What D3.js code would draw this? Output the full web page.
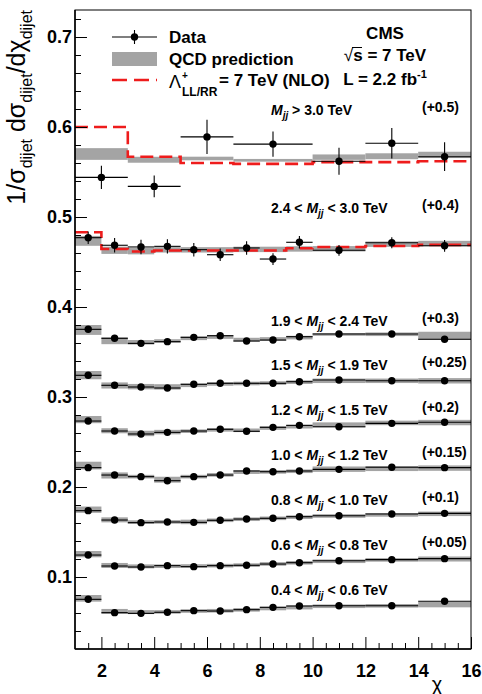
<!DOCTYPE html>
<html>
<head>
<meta charset="utf-8">
<title>dijet chi</title>
<style>
body{margin:0;background:#fff}
text{font-family:"Liberation Sans",Arial,sans-serif}
</style>
</head>
<body>
<script src="https://d3js.org/d3.v7.min.js"></script>
<script>
// chi bin edges and centres
var edgesLow = [1,2,3,4,5,6,7,8,9,10,12,14,16];
var edgesHigh = [1,3,5,7,10,12,14,16];
var chiLow = [1.5,2.5,3.5,4.5,5.5,6.5,7.5,8.5,9.5,11,13,15];
var chiHigh = [2,4,6,8.5,11,13,15];

// Mjj > 3.0 TeV (+0.5)
var data30 = [0.544,0.534,0.589,0.581,0.562,0.582,0.567];
var err30 = [0.013,0.012,0.019,0.014,0.015,0.017,0.016];
var qcd30 = [0.570,0.5636,0.565,0.563,0.5665,0.5675,0.569];
var qerr30 = [0.0065,0.0033,0.002,0.0015,0.003,0.0033,0.0035];
var lam30 = [0.600,0.567,0.560,0.559,0.561,0.561,0.562];

// 2.4 < Mjj < 3.0 TeV (+0.4)
var data24 = [0.477,0.4686,0.4667,0.4674,0.4637,0.4581,0.4656,0.4533,0.4719,0.463,0.4714,0.468];
var err24 = [0.007,0.008,0.008,0.008,0.0075,0.007,0.0075,0.0065,0.007,0.006,0.006,0.0065];
var qcd24 = [0.4735,0.463,0.462,0.4635,0.4635,0.4635,0.464,0.464,0.4645,0.4647,0.4698,0.4705];
var qerr24 = [0.0055,0.004,0.0035,0.003,0.003,0.003,0.003,0.003,0.003,0.003,0.003,0.003];
var lam24 = [0.483,0.4644,0.4617,0.4628,0.4628,0.4628,0.4628,0.4628,0.4652,0.4667,0.4678,0.469];

// lower mass bins (values include the offsets)
var data19 = [0.3752,0.3652,0.3596,0.3615,0.3663,0.3681,0.3622,0.3633,0.3670,0.3700,0.3700,0.3641];
var qcd19 = [0.3745,0.3625,0.3608,0.3622,0.3652,0.3666,0.3638,0.3645,0.366,0.3695,0.3697,0.368];
var qerr19 = [0.0055,0.0038,0.0025,0.002,0.002,0.002,0.002,0.002,0.002,0.0015,0.002,0.0045];

var data15 = [0.3241,0.3130,0.3111,0.3100,0.3141,0.3152,0.3152,0.3152,0.3170,0.3189,0.3181,0.3181];
var qcd15 = [0.3243,0.3128,0.3115,0.3112,0.313,0.3145,0.315,0.3155,0.3165,0.318,0.318,0.318];
var qerr15 = [0.0046,0.0034,0.003,0.003,0.002,0.002,0.002,0.002,0.002,0.0025,0.0025,0.003];

var data12 = [0.2733,0.2622,0.2589,0.2607,0.2622,0.2641,0.2619,0.2663,0.2685,0.267,0.2707,0.2719];
var qcd12 = [0.2749,0.2625,0.2595,0.261,0.262,0.2635,0.263,0.2655,0.267,0.269,0.2712,0.2716];
var qerr12 = [0.004,0.0028,0.003,0.0025,0.002,0.002,0.002,0.002,0.002,0.0028,0.0025,0.003];

var data10 = [0.2215,0.2133,0.2115,0.2070,0.2115,0.2133,0.2178,0.2170,0.2178,0.2196,0.2219,0.2215];
var qcd10 = [0.2238,0.2128,0.2115,0.2081,0.2115,0.2135,0.2165,0.2168,0.2175,0.2198,0.2205,0.221];
var qerr10 = [0.0043,0.0034,0.002,0.0033,0.002,0.002,0.002,0.002,0.002,0.003,0.0028,0.003];

var data08 = [0.1737,0.1633,0.1604,0.1611,0.1607,0.1630,0.1644,0.1652,0.1670,0.1681,0.1700,0.1707];
var qcd08 = [0.1748,0.1635,0.161,0.1612,0.1612,0.163,0.1642,0.1652,0.1665,0.1678,0.169,0.1702];
var qerr08 = [0.0035,0.0028,0.002,0.002,0.0025,0.002,0.002,0.002,0.002,0.002,0.002,0.0025];

var data06 = [0.1244,0.1122,0.1111,0.1126,0.1115,0.1126,0.1130,0.1144,0.1159,0.1181,0.1193,0.1204];
var qcd06 = [0.1254,0.1128,0.1118,0.112,0.1122,0.1126,0.1132,0.1145,0.1158,0.1175,0.119,0.12];
var qerr06 = [0.0035,0.0028,0.0022,0.002,0.002,0.002,0.002,0.002,0.002,0.002,0.002,0.0028];

var data04 = [0.0752,0.0604,0.0596,0.0608,0.0626,0.0622,0.0637,0.0663,0.0678,0.0681,0.0681,0.0730];
var qcd04 = [0.0763,0.0617,0.061,0.0612,0.0622,0.0625,0.0635,0.065,0.066,0.0675,0.068,0.0694];
var qerr04 = [0.0037,0.0028,0.0022,0.002,0.002,0.002,0.002,0.002,0.002,0.002,0.002,0.0031];

// panel labels
var massLo = ["", "2.4", "1.9", "1.5", "1.2", "1.0", "0.8", "0.6", "0.4"];
var massHi = ["3.0", "3.0", "2.4", "1.9", "1.5", "1.2", "1.0", "0.8", "0.6"];
var offsets = ["(+0.5)", "(+0.4)", "(+0.3)", "(+0.25)", "(+0.2)", "(+0.15)", "(+0.1)", "(+0.05)", ""];
var labelY = [115, 213, 326, 369.5, 415, 460, 505, 550, 595]; // text baselines, px

var xTicks = [2,4,6,8,10,12,14,16];
var yTicks = [0.1,0.2,0.3,0.4,0.5,0.6,0.7];

var W = 482, H = 694;
var svg = d3.select("body").append("svg").attr("width", W).attr("height", H);

var x = d3.scaleLinear().domain([1,16]).range([75,471]);
var y = d3.scaleLinear().domain([0.02,0.73]).range([649,10]);

var panels = [
  {edges: edgesHigh, chi: chiHigh, d: data30, e: err30, q: qcd30, qe: qerr30, lam: lam30},
  {edges: edgesLow, chi: chiLow, d: data24, e: err24, q: qcd24, qe: qerr24, lam: lam24},
  {edges: edgesLow, chi: chiLow, d: data19, q: qcd19, qe: qerr19},
  {edges: edgesLow, chi: chiLow, d: data15, q: qcd15, qe: qerr15},
  {edges: edgesLow, chi: chiLow, d: data12, q: qcd12, qe: qerr12},
  {edges: edgesLow, chi: chiLow, d: data10, q: qcd10, qe: qerr10},
  {edges: edgesLow, chi: chiLow, d: data08, q: qcd08, qe: qerr08},
  {edges: edgesLow, chi: chiLow, d: data06, q: qcd06, qe: qerr06},
  {edges: edgesLow, chi: chiLow, d: data04, q: qcd04, qe: qerr04}
];

var plot = svg.append("g");

// QCD bands
panels.forEach(function(p){
  plot.append("g").selectAll("rect")
    .data(p.q)
    .enter().append("rect")
    .attr("x", function(d,i){ return x(p.edges[i]); })
    .attr("width", function(d,i){ return x(p.edges[i+1]) - x(p.edges[i]); })
    .attr("y", function(d,i){ return y(d + p.qe[i]); })
    .attr("height", function(d,i){ return y(d - p.qe[i]) - y(d + p.qe[i]); })
    .attr("fill", "#a4a4a4");
});

// contact interaction prediction (red dashed steps)
var step = d3.line().curve(d3.curveStepAfter)
  .x(function(d){ return x(d[0]); }).y(function(d){ return y(d[1]); });
panels.forEach(function(p){
  if (!p.lam) return;
  var pts = p.edges.map(function(e,i){ return [e, p.lam[Math.min(i, p.lam.length-1)]]; });
  plot.append("path").attr("d", step(pts))
    .attr("fill","none").attr("stroke","#ee1c1c").attr("stroke-width",2.6)
    .attr("stroke-dasharray","13,6");
});

// data points
panels.forEach(function(p){
  var g = plot.append("g");
  g.selectAll("line.h").data(p.d).enter().append("line")
    .attr("x1", function(d,i){ return x(p.edges[i]); })
    .attr("x2", function(d,i){ return x(p.edges[i+1]); })
    .attr("y1", function(d){ return y(d); })
    .attr("y2", function(d){ return y(d); })
    .attr("stroke","#000").attr("stroke-width",1.1);
  if (p.e) {
    g.selectAll("line.v").data(p.d).enter().append("line")
      .attr("x1", function(d,i){ return x(p.chi[i]); })
      .attr("x2", function(d,i){ return x(p.chi[i]); })
      .attr("y1", function(d,i){ return y(d + p.e[i]); })
      .attr("y2", function(d,i){ return y(d - p.e[i]); })
      .attr("stroke","#000").attr("stroke-width",1.1);
  }
  g.selectAll("circle").data(p.d).enter().append("circle")
    .attr("cx", function(d,i){ return x(p.chi[i]); })
    .attr("cy", function(d){ return y(d); })
    .attr("r", 3.7).attr("fill","#000");
});

// frame
svg.append("rect").attr("x",75).attr("y",10).attr("width",396).attr("height",639)
  .attr("fill","none").attr("stroke","#000").attr("stroke-width",1);

// axes
var yMinor = d3.range(0.04, 0.73, 0.02).filter(function(v){ return Math.abs(v*10 - Math.round(v*10)) > 0.01; });
svg.append("g").attr("transform","translate(75,0)")
  .call(d3.axisLeft(y).tickValues(yMinor).tickSize(-6).tickFormat(""))
  .call(function(g){ g.select(".domain").remove(); });
svg.append("g").attr("transform","translate(75,0)")
  .call(d3.axisLeft(y).tickValues(yTicks).tickSize(-12).tickPadding(3).tickFormat(d3.format(".1f")))
  .call(function(g){
    g.select(".domain").attr("stroke-width",1.5).attr("d","M0,649V10");
    g.selectAll("text").attr("font-size",18).attr("font-weight","bold").attr("font-family","Liberation Sans, Arial, sans-serif").attr("fill","#000");
  });

var xMinor = d3.range(1.5, 16, 0.5).filter(function(v){ return v % 2 !== 0; });
svg.append("g").attr("transform","translate(0,649)")
  .call(d3.axisBottom(x).tickValues(xMinor).tickSize(-6).tickFormat(""))
  .call(function(g){ g.select(".domain").remove(); });
svg.append("g").attr("transform","translate(0,649)")
  .call(d3.axisBottom(x).tickValues(xTicks).tickSize(-12).tickPadding(15).tickFormat(d3.format("d")))
  .call(function(g){
    g.select(".domain").attr("stroke-width",1.5).attr("d","M75,0H471");
    g.selectAll("text").attr("font-size",18).attr("font-weight","bold").attr("font-family","Liberation Sans, Arial, sans-serif").attr("fill","#000");
  });

// axis titles
var yt = svg.append("text").attr("transform","translate(25,10) rotate(-90)")
  .attr("text-anchor","end").attr("font-size",25).attr("fill","#000");
yt.append("tspan").text("1/σ");
yt.append("tspan").attr("font-size",16).attr("dy",7).text("dijet");
yt.append("tspan").attr("dy",-7).text(" dσ");
yt.append("tspan").attr("font-size",16).attr("dy",7).text("dijet");
yt.append("tspan").attr("dy",-7).text("/dχ");
yt.append("tspan").attr("font-size",16).attr("dy",7).text("dijet");

svg.append("text").attr("x",437).attr("y",691).attr("text-anchor","middle")
  .attr("font-size",20).text("χ");

// panel labels
var lab = svg.append("g").attr("font-weight","bold").attr("fill","#000");
massHi.forEach(function(hi,i){
  var t = lab.append("text").attr("x",271).attr("y",labelY[i]).attr("font-size",14);
  if (massLo[i] !== "") t.append("tspan").text(massLo[i] + " < ");
  t.append("tspan").attr("font-style","italic").text("M");
  t.append("tspan").attr("font-style","italic").attr("font-size",10).attr("dy",4).text("jj");
  t.append("tspan").attr("dy",-4).text((massLo[i] === "" ? "  > " : "  < ") + hi + " TeV");
  if (offsets[i] !== "")
    lab.append("text").attr("x",422).attr("y",labelY[i]-3).attr("font-size",14).text(offsets[i]);
});

// legend
var leg = svg.append("g").attr("font-weight","bold").attr("font-size",17).attr("fill","#000");
leg.append("line").attr("x1",112).attr("x2",157).attr("y1",37).attr("y2",37).attr("stroke","#000").attr("stroke-width",1.1);
leg.append("line").attr("x1",134.5).attr("x2",134.5).attr("y1",30).attr("y2",44).attr("stroke","#000").attr("stroke-width",1.1);
leg.append("circle").attr("cx",134.5).attr("cy",37).attr("r",3.7).attr("fill","#000");
leg.append("text").attr("x",169).attr("y",43).text("Data");
leg.append("rect").attr("x",112).attr("y",52).attr("width",45).attr("height",14).attr("fill","#a4a4a4");
leg.append("text").attr("x",169).attr("y",65).text("QCD prediction");
leg.append("line").attr("x1",112).attr("x2",157).attr("y1",80).attr("y2",80)
  .attr("stroke","#ee1c1c").attr("stroke-width",2.6).attr("stroke-dasharray","15,7");
var lt = leg.append("text").attr("x",169).attr("y",88);
lt.append("tspan").attr("font-weight","normal").attr("font-size",18).text("Λ");
leg.append("text").attr("x",182).attr("y",79).attr("font-size",10).text("+");
leg.append("text").attr("x",182).attr("y",96).attr("font-size",12).text("LL/RR");
leg.append("text").attr("x",219).attr("y",86).text("= 7 TeV (NLO)");

// CMS block
var cms = svg.append("g").attr("font-weight","bold").attr("font-size",17).attr("fill","#000").attr("text-anchor","middle");
cms.append("text").attr("x",385).attr("y",39).text("CMS");
var rs = cms.append("text").attr("x",385).attr("y",61);
rs.append("tspan").attr("font-weight","normal").text("√");
rs.append("tspan").text("s = 7 TeV");
cms.append("line").attr("x1",352).attr("x2",362).attr("y1",47.5).attr("y2",47.5).attr("stroke","#000").attr("stroke-width",1);
var lum = cms.append("text").attr("x",385).attr("y",85);
lum.append("tspan").text("L = 2.2 fb");
lum.append("tspan").attr("font-size",11).attr("dy",-7).text("-1");
</script>
</body>
</html>
